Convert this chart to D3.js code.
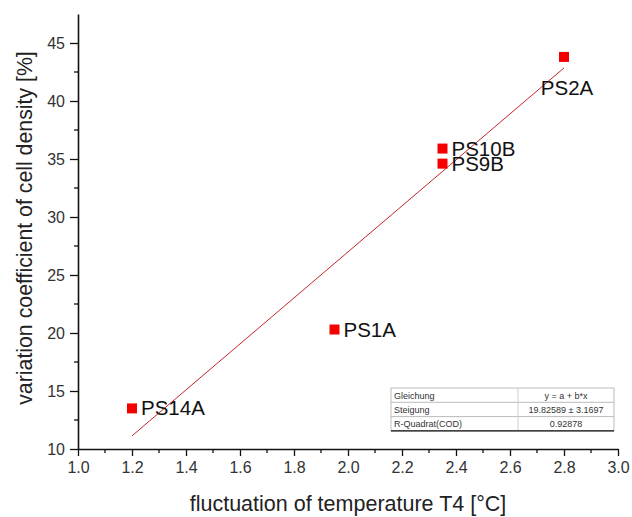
<!DOCTYPE html>
<html>
<head>
<meta charset="utf-8">
<script src="https://cdn.jsdelivr.net/npm/d3@7"></script>
<style>
  body { margin: 0; background: #fff; }
  svg { display: block; font-family: Arial, "Liberation Sans", sans-serif; }
</style>
</head>
<body>
<svg id="chart" width="632" height="517"></svg>
<script>
// sample points
const sampleNames = ["PS14A", "PS1A", "PS9B", "PS10B", "PS2A"];
const fluctuation = [1.2, 1.95, 2.35, 2.35, 2.8];
const variationCoef = [13.5, 20.3, 34.6, 35.9, 43.8];

// label placement: which side of the square the name sits on
const labelSide = ["right", "right", "right", "right", "below"];

// linear fit y = a + b*x, drawn over the data range
const fitA = -12.66;
const fitB = 19.82589;
const fitRange = [1.2, 2.8];

const xTicks = [1.0, 1.2, 1.4, 1.6, 1.8, 2.0, 2.2, 2.4, 2.6, 2.8, 3.0];
const yTicks = [10, 15, 20, 25, 30, 35, 40, 45];

const tableRows = [
    ["Gleichung", "y = a + b*x"],
    ["Steigung", "19.82589 ± 3.1697"],
    ["R-Quadrat(COD)", "0.92878"]
];

const svg = d3.select("#chart");
const margin = { top: 14, right: 14, bottom: 68, left: 78 };
const width = 632 - margin.left - margin.right;
const height = 517 - margin.top - margin.bottom;

const x = d3.scaleLinear().domain([1.0, 3.0]).range([0, width]);
const y = d3.scaleLinear().domain([10, 47.5]).range([height, 0]);

const g = svg.append("g")
    .attr("transform", `translate(${margin.left},${margin.top})`);

// minor ticks first, majors on top
const xMinor = d3.range(1.1, 3.0, 0.2);
const yMinor = d3.range(12.5, 47.5, 5);

const xAxisG = g.append("g").attr("transform", `translate(0,${height})`);
xAxisG.selectAll("line.minor")
    .data(xMinor)
    .join("line")
    .attr("class", "minor")
    .attr("x1", d => x(d)).attr("x2", d => x(d))
    .attr("y1", 0).attr("y2", 4)
    .attr("stroke", "#111").attr("stroke-width", 1.3);
xAxisG.call(d3.axisBottom(x).tickValues(xTicks).tickFormat(d3.format(".1f")).tickSize(7).tickPadding(6).tickSizeOuter(0));

const yAxisG = g.append("g");
yAxisG.selectAll("line.minor")
    .data(yMinor)
    .join("line")
    .attr("class", "minor")
    .attr("x1", 0).attr("x2", -4)
    .attr("y1", d => y(d)).attr("y2", d => y(d))
    .attr("stroke", "#111").attr("stroke-width", 1.3);
yAxisG.call(d3.axisLeft(y).tickValues(yTicks).tickSize(8).tickPadding(5).tickSizeOuter(0));

[xAxisG, yAxisG].forEach(a => {
    a.select(".domain").attr("stroke", "#111").attr("stroke-width", 1.6);
    a.selectAll(".tick line").attr("stroke", "#111").attr("stroke-width", 1.3);
    a.selectAll(".tick text")
        .attr("fill", "#333")
        .style("font-size", "16px")
        .style("font-family", "Arial, 'Liberation Sans', sans-serif");
});

// axis titles
g.append("text")
    .attr("x", width / 2)
    .attr("y", height + 62)
    .attr("text-anchor", "middle")
    .attr("fill", "#222")
    .style("font-size", "21.5px")
    .text("fluctuation of temperature T4 [°C]");

g.append("text")
    .attr("transform", "rotate(-90)")
    .attr("x", -(228 - margin.top))
    .attr("y", -46)
    .attr("text-anchor", "middle")
    .attr("fill", "#222")
    .style("font-size", "21.3px")
    .text("variation coefficient of cell density [%]");

// fit line
g.append("line")
    .attr("x1", x(fitRange[0]))
    .attr("y1", y(fitA + fitB * fitRange[0]))
    .attr("x2", x(fitRange[1]))
    .attr("y2", y(fitA + fitB * fitRange[1]))
    .attr("stroke", "#c0262c")
    .attr("stroke-width", 1);

// points
const pts = sampleNames.map((name, i) => ({
    name, fx: fluctuation[i], vy: variationCoef[i], side: labelSide[i]
}));

const sq = 10;
g.selectAll("rect.pt")
    .data(pts)
    .join("rect")
    .attr("class", "pt")
    .attr("x", d => x(d.fx) - sq / 2)
    .attr("y", d => y(d.vy) - sq / 2)
    .attr("width", sq)
    .attr("height", sq)
    .attr("fill", "#f40000");

g.selectAll("text.lbl")
    .data(pts)
    .join("text")
    .attr("class", "lbl")
    .attr("x", d => d.side === "below" ? x(d.fx) + 3 : x(d.fx) + 9)
    .attr("y", d => d.side === "below" ? y(d.vy) + 38 : y(d.vy) + 7)
    .attr("text-anchor", d => d.side === "below" ? "middle" : "start")
    .attr("fill", "#111")
    .style("font-size", "20.5px")
    .text(d => d.name);

// fit result table
const tbl = svg.append("g").attr("transform", "translate(391,388)");
const tW = 223, rowH = 14.3, colSplit = 127;
tbl.append("rect")
    .attr("width", tW).attr("height", rowH * tableRows.length)
    .attr("fill", "#fff").attr("stroke", "#bbb").attr("stroke-width", 1);
tbl.selectAll("line.row")
    .data(d3.range(1, tableRows.length))
    .join("line")
    .attr("class", "row")
    .attr("x1", 0).attr("x2", tW)
    .attr("y1", d => d * rowH).attr("y2", d => d * rowH)
    .attr("stroke", "#bbb");
tbl.append("line")
    .attr("x1", colSplit).attr("x2", colSplit)
    .attr("y1", 0).attr("y2", rowH * tableRows.length)
    .attr("stroke", "#ccc");
tbl.append("line")
    .attr("x1", 0).attr("x2", tW)
    .attr("y1", rowH * tableRows.length).attr("y2", rowH * tableRows.length)
    .attr("stroke", "#111").attr("stroke-width", 1.3);
tableRows.forEach((r, i) => {
    tbl.append("text")
        .attr("x", 3).attr("y", i * rowH + 10.5)
        .attr("fill", "#333").style("font-size", "9px")
        .text(r[0]);
    tbl.append("text")
        .attr("x", colSplit + (tW - colSplit) / 2).attr("y", i * rowH + 10.5)
        .attr("text-anchor", "middle")
        .attr("fill", "#333").style("font-size", "9px")
        .text(r[1]);
});
</script>
</body>
</html>
